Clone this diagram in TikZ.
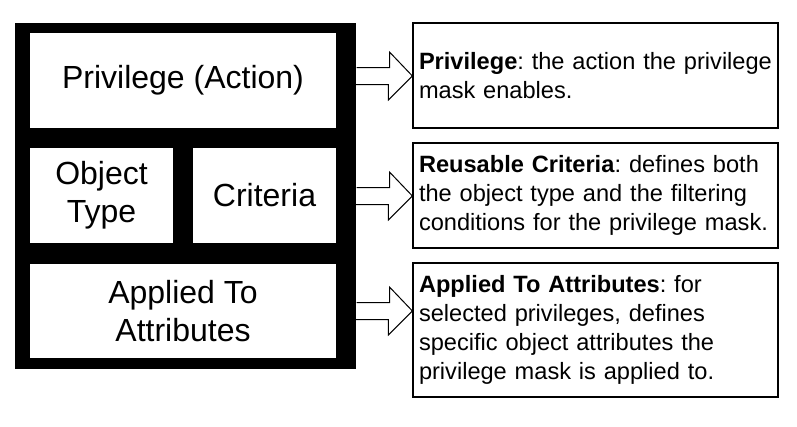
\documentclass[tikz,border=0pt]{standalone}
\usepackage{fontspec}
\setmainfont{Liberation Sans}
\usepackage{tikz}
\frenchspacing
\hyphenpenalty=10000

\begin{document}
\begin{tikzpicture}[x = 1pt, y = -1pt, line width = 1pt,
                        part/.style = {rectangle, fill = white, inner sep = 0pt, align = center,
                                       font = \fontsize{32}{38}\selectfont},
                        descbox/.style = {rectangle, draw, line width = 1.2pt, fill = white,
                                          minimum width = 365pt, text width = 353pt, inner xsep = 6pt,
                                          align = left, font = \fontsize{23.6}{29}\selectfont}]
      \useasboundingbox (0, 0) rectangle (797, 426);

      \node [rectangle, fill = black, minimum width = 341pt, minimum height = 346pt] (outer) at (185.5, 196){};
      \node [part, minimum width = 306pt, minimum height = 95pt] (action) at (183, 80.5){Privilege (Action)};
      \node [part, minimum width = 143pt, minimum height = 95pt] (objtype) at (101.5, 195.5){Object\\Type};
      \node [part, minimum width = 143pt, minimum height = 95pt] (criteria) at (264.5, 195.5){Criteria};
      \node [part, minimum width = 306pt, minimum height = 94pt] (applied) at (183, 311){Applied To\\Attributes};

      \node [descbox, minimum height = 105pt] (privdesc) at (595.5, 75.5){\mbox{\textbf{Privilege}: the action the privilege}\\mask enables.};
      \node [descbox, minimum height = 105pt] (critdesc) at (595.5, 195.5){\textbf{Reusable Criteria}: defines both\\the object type and the filtering\\conditions for the privilege mask.};
      \node [descbox, minimum height = 134pt] (attrdesc) at (595.5, 330){\textbf{Applied To Attributes}: for\\selected privileges, defines\\specific object attributes the\\privilege mask is applied to.};

      \foreach \t/\yy in {privdesc/76, critdesc/196, attrdesc/311}
        \draw (outer.east |- 0,\yy) ++(0, -8.5) -- ++(33, 0) -- ++(0, -15.5) -- (\t.west |- 0,\yy)
              -- ++(-24, 24) -- ++(0, -15.5) -- ++(-33, 0);
      \end{tikzpicture}
\end{document}
